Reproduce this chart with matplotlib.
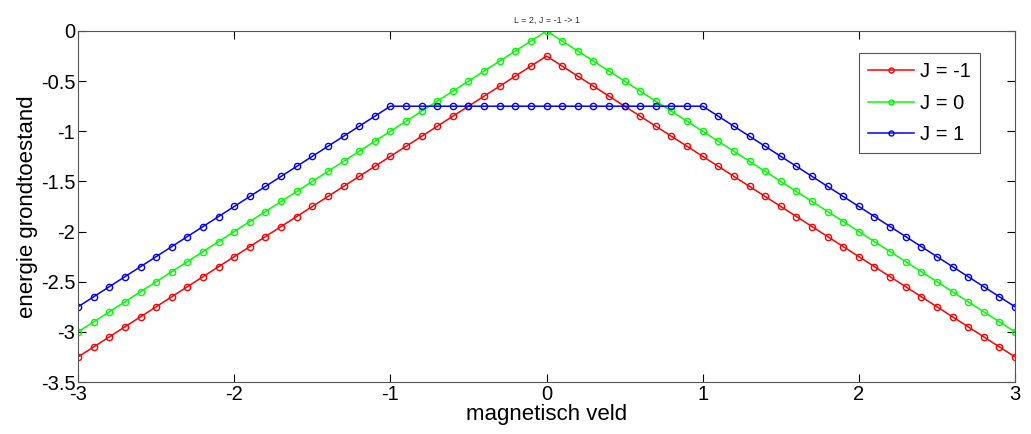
import matplotlib
matplotlib.use("Agg")
import matplotlib.pyplot as plt
from matplotlib.ticker import FuncFormatter

plt.rcParams["font.family"] = ["Liberation Sans", "DejaVu Sans"]
plt.rcParams["axes.unicode_minus"] = False

# magnetisch veld, stap 0.1
x = [-3.0, -2.9, -2.8, -2.7, -2.6, -2.5, -2.4, -2.3, -2.2, -2.1,
     -2.0, -1.9, -1.8, -1.7, -1.6, -1.5, -1.4, -1.3, -1.2, -1.1,
     -1.0, -0.9, -0.8, -0.7, -0.6, -0.5, -0.4, -0.3, -0.2, -0.1,
     0.0,
     0.1, 0.2, 0.3, 0.4, 0.5, 0.6, 0.7, 0.8, 0.9, 1.0,
     1.1, 1.2, 1.3, 1.4, 1.5, 1.6, 1.7, 1.8, 1.9, 2.0,
     2.1, 2.2, 2.3, 2.4, 2.5, 2.6, 2.7, 2.8, 2.9, 3.0]

e_jm1 = [-3.25, -3.15, -3.05, -2.95, -2.85, -2.75, -2.65, -2.55, -2.45, -2.35,
         -2.25, -2.15, -2.05, -1.95, -1.85, -1.75, -1.65, -1.55, -1.45, -1.35,
         -1.25, -1.15, -1.05, -0.95, -0.85, -0.75, -0.65, -0.55, -0.45, -0.35,
         -0.25,
         -0.35, -0.45, -0.55, -0.65, -0.75, -0.85, -0.95, -1.05, -1.15, -1.25,
         -1.35, -1.45, -1.55, -1.65, -1.75, -1.85, -1.95, -2.05, -2.15, -2.25,
         -2.35, -2.45, -2.55, -2.65, -2.75, -2.85, -2.95, -3.05, -3.15, -3.25]

e_j0 = [-3.0, -2.9, -2.8, -2.7, -2.6, -2.5, -2.4, -2.3, -2.2, -2.1,
        -2.0, -1.9, -1.8, -1.7, -1.6, -1.5, -1.4, -1.3, -1.2, -1.1,
        -1.0, -0.9, -0.8, -0.7, -0.6, -0.5, -0.4, -0.3, -0.2, -0.1,
        0.0,
        -0.1, -0.2, -0.3, -0.4, -0.5, -0.6, -0.7, -0.8, -0.9, -1.0,
        -1.1, -1.2, -1.3, -1.4, -1.5, -1.6, -1.7, -1.8, -1.9, -2.0,
        -2.1, -2.2, -2.3, -2.4, -2.5, -2.6, -2.7, -2.8, -2.9, -3.0]

e_j1 = [-2.75, -2.65, -2.55, -2.45, -2.35, -2.25, -2.15, -2.05, -1.95, -1.85,
        -1.75, -1.65, -1.55, -1.45, -1.35, -1.25, -1.15, -1.05, -0.95, -0.85,
        -0.75, -0.75, -0.75, -0.75, -0.75, -0.75, -0.75, -0.75, -0.75, -0.75,
        -0.75,
        -0.75, -0.75, -0.75, -0.75, -0.75, -0.75, -0.75, -0.75, -0.75, -0.75,
        -0.85, -0.95, -1.05, -1.15, -1.25, -1.35, -1.45, -1.55, -1.65, -1.75,
        -1.85, -1.95, -2.05, -2.15, -2.25, -2.35, -2.45, -2.55, -2.65, -2.75]

series = [("J = -1", e_jm1, "#ff0000"),
          ("J = 0", e_j0, "#00ff00"),
          ("J = 1", e_j1, "#0000ff")]

fig = plt.figure(figsize=(10.31, 4.34), dpi=100)
fig.patch.set_facecolor("white")
ax = fig.add_axes([0.0757, 0.1198, 0.9088, 0.8088])

for label, y, col in series:
    ax.plot(x, y, "-o", color=col, lw=1.1, ms=4.5, mfc="none", mew=1.0, label=label)

ax.set_xlim(-3, 3)
ax.set_ylim(-3.5, 0)
ax.set_xticks([-3, -2, -1, 0, 1, 2, 3])
ax.set_yticks([-3.5, -3, -2.5, -2, -1.5, -1, -0.5, 0])
ax.xaxis.set_major_formatter(FuncFormatter(lambda v, p: f"{v:g}"))
ax.yaxis.set_major_formatter(FuncFormatter(lambda v, p: f"{v:g}"))
ax.tick_params(direction="in", length=6, width=0.8, labelsize=14.5, top=True, right=True,
               colors="black", pad=2)
for s in ax.spines.values():
    s.set_color("#555555")
    s.set_linewidth(0.8)

ax.set_xlabel("magnetisch veld", fontsize=16, labelpad=0)
ax.set_ylabel("energie grondtoestand", fontsize=16, labelpad=2)
ax.set_title("L = 2, J = -1 -> 1", fontsize=6.5, color="#333333", pad=6)

leg = ax.legend(loc="upper right", bbox_to_anchor=(0.963, 0.937), borderaxespad=0,
                fontsize=14.5, fancybox=False, framealpha=1, edgecolor="#555555",
                handlelength=2.3, handletextpad=0.3, borderpad=0.45,
                labelspacing=0.62, markerscale=0.8)
leg.get_frame().set_linewidth(0.8)

plt.savefig("out.png", dpi=100, facecolor="white")
plt.close(fig)
